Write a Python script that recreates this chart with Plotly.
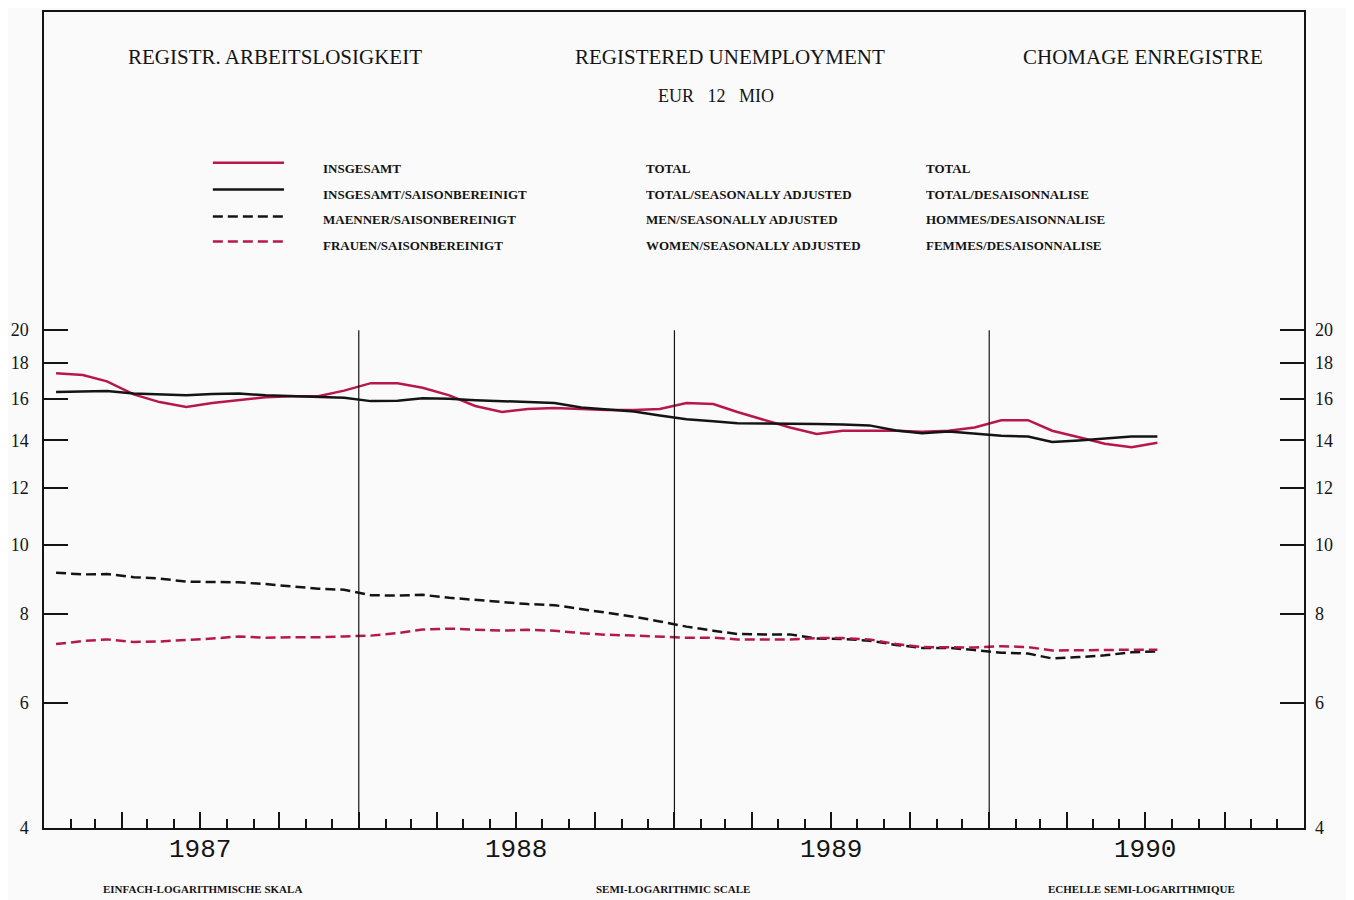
import math
import pandas as pd
import plotly.graph_objects as go

# monthly values, Jan 1987 - Jul 1990 (millions)
months = pd.date_range("1987-01-01", periods=43, freq="MS") + pd.Timedelta(days=14)

total = [17.4, 17.3, 16.95, 16.25, 15.85, 15.6, 15.8, 15.95, 16.1, 16.15,
         16.15, 16.45, 16.85, 16.85, 16.6, 16.2, 15.65, 15.35, 15.5, 15.55,
         15.5, 15.45, 15.45, 15.5, 15.8, 15.75, 15.35, 14.95, 14.6, 14.3,
         14.45, 14.45, 14.45, 14.4, 14.45, 14.6, 14.95, 14.95, 14.45, 14.15,
         13.85, 13.7, 13.9]
total_sa = [16.37, 16.4, 16.43, 16.3, 16.25, 16.2, 16.27, 16.3, 16.2, 16.15,
            16.1, 16.07, 15.9, 15.92, 16.05, 16.02, 15.95, 15.9, 15.85, 15.8,
            15.58, 15.48, 15.38, 15.18, 15.0, 14.9, 14.8, 14.79, 14.79, 14.77,
            14.74, 14.7, 14.46, 14.33, 14.41, 14.31, 14.22, 14.18, 13.93, 14.0,
            14.1, 14.18, 14.18]
men_sa = [9.13, 9.08, 9.09, 9.0, 8.96, 8.87, 8.86, 8.85, 8.8, 8.73,
          8.67, 8.64, 8.49, 8.48, 8.5, 8.42, 8.36, 8.29, 8.25, 8.22,
          8.12, 8.01, 7.92, 7.8, 7.67, 7.57, 7.49, 7.48, 7.48, 7.38,
          7.37, 7.33, 7.23, 7.16, 7.16, 7.11, 7.05, 7.03, 6.92, 6.95,
          6.99, 7.06, 7.08]
women_sa = [7.25, 7.32, 7.36, 7.3, 7.31, 7.34, 7.38, 7.43, 7.4, 7.41,
            7.41, 7.43, 7.45, 7.51, 7.6, 7.62, 7.59, 7.57, 7.59, 7.57,
            7.51, 7.47, 7.45, 7.43, 7.4, 7.4, 7.36, 7.36, 7.36, 7.39,
            7.39, 7.36, 7.25, 7.18, 7.18, 7.17, 7.2, 7.18, 7.1, 7.1,
            7.11, 7.12, 7.12]

y_ticks = [4, 6, 8, 10, 12, 14, 16, 18, 20]
years = [1987, 1988, 1989, 1990]

titles = ["REGISTR. ARBEITSLOSIGKEIT", "REGISTERED UNEMPLOYMENT", "CHOMAGE ENREGISTRE"]
subtitle = "EUR&nbsp;&nbsp; 12&nbsp;&nbsp; MIO"
legend_de = ["INSGESAMT", "INSGESAMT/SAISONBEREINIGT", "MAENNER/SAISONBEREINIGT", "FRAUEN/SAISONBEREINIGT"]
legend_en = ["TOTAL", "TOTAL/SEASONALLY ADJUSTED", "MEN/SEASONALLY ADJUSTED", "WOMEN/SEASONALLY ADJUSTED"]
legend_fr = ["TOTAL", "TOTAL/DESAISONNALISE", "HOMMES/DESAISONNALISE", "FEMMES/DESAISONNALISE"]
scale_notes = ["EINFACH-LOGARITHMISCHE SKALA", "SEMI-LOGARITHMIC SCALE", "ECHELLE SEMI-LOGARITHMIQUE"]

RED = "#b8174e"
BLACK = "#141414"
SERIF = "Liberation Serif"

series = [
  (total, RED, "solid"),
  (total_sa, BLACK, "solid"),
  (men_sa, BLACK, "10px,5px"),
  (women_sa, RED, "10px,5px"),
]

fig = go.Figure()
for values, color, dash in series:
  fig.add_trace(go.Scatter(x=months, y=values, mode="lines",
                           line=dict(color=color, width=2.5, dash=dash),
                           showlegend=False))

# year separators
for yr in years[1:]:
  fig.add_trace(go.Scatter(x=[f"{yr}-01-01", f"{yr}-01-01"], y=[min(y_ticks), max(y_ticks)],
                           mode="lines", line=dict(color=BLACK, width=1.2),
                           yaxis="y2", showlegend=False, hoverinfo="skip"))

y_range = [math.log10(4), math.log10(4) + 818 / 714]

# page body has an 8px margin, so the figure is 8px smaller than the window
fig.update_layout(
  width=1346, height=892,
  margin=dict(l=36, r=50, t=2, b=72),
  paper_bgcolor="#fafafa", plot_bgcolor="#fafafa",
  font=dict(family=SERIF, color=BLACK),
  xaxis=dict(
    type="date", range=["1987-01-01", "1991-01-01"],
    showgrid=False, zeroline=False, showline=True, linecolor=BLACK, linewidth=1.5, mirror=True,
    tickmode="linear", tick0="1987-01-01", dtick="M3",
    ticks="inside", ticklen=16, tickwidth=1.5, tickcolor=BLACK, showticklabels=False,
    minor=dict(dtick="M1", tick0="1987-01-01", ticks="inside", ticklen=9, tickwidth=1.5, tickcolor=BLACK),
  ),
  yaxis=dict(
    type="log", range=y_range,
    showgrid=False, zeroline=False, showline=True, linecolor=BLACK, linewidth=1.5, mirror=True,
    tickmode="array", tickvals=y_ticks, ticktext=[str(v) for v in y_ticks],
    ticks="inside", ticklen=24, tickwidth=1.5, tickcolor=BLACK,
    ticklabelstandoff=10, tickfont=dict(size=18, family=SERIF),
  ),
  yaxis2=dict(
    type="log", range=y_range, overlaying="y", side="right",
    showgrid=False, zeroline=False, showline=False,
    tickmode="array", tickvals=y_ticks, ticktext=[str(v) for v in y_ticks],
    ticks="inside", ticklen=24, tickwidth=1.5, tickcolor=BLACK,
    ticklabelstandoff=10, tickfont=dict(size=18, family=SERIF),
  ),
)

# titles
for text, x in zip(titles, [0.1833, 0.5444, 0.8722]):
  fig.add_annotation(x=x, y=0.945, xref="paper", yref="paper", text=text, showarrow=False,
                     font=dict(size=21, family=SERIF), xanchor="center", yanchor="middle")
fig.add_annotation(x=0.5333, y=0.8973, xref="paper", yref="paper", text=subtitle, showarrow=False,
                   font=dict(size=18, family=SERIF), xanchor="center", yanchor="middle")

# legend block
line_y = [0.8154, 0.7824, 0.7494, 0.7188]
text_y = [0.8081, 0.7763, 0.7457, 0.714]
for i, (_, color, dash) in enumerate(series):
  fig.add_shape(type="line", xref="paper", yref="paper", x0=0.134, x1=0.1905,
                y0=line_y[i], y1=line_y[i], line=dict(color=color, width=2.5, dash=dash))
  for labels, x in ((legend_de, 0.2198), (legend_en, 0.4762), (legend_fr, 0.6984)):
    fig.add_annotation(x=x, y=text_y[i], xref="paper", yref="paper", text=f"<b>{labels[i]}</b>",
                       showarrow=False, xanchor="left", yanchor="middle",
                       font=dict(size=13, family=SERIF))

# year labels
for yr in years:
  fig.add_annotation(x=f"{yr}-07-01", y=-0.027, xref="x", yref="paper", text=str(yr), showarrow=False,
                     font=dict(size=26, family="Liberation Mono"), xanchor="center", yanchor="middle")

# scale notes
for text, x in zip(scale_notes, [0.126, 0.499, 0.871]):
  fig.add_annotation(x=x, y=-0.0745, xref="paper", yref="paper", text=f"<b>{text}</b>", showarrow=False,
                     font=dict(size=11, family=SERIF), xanchor="center", yanchor="middle")

fig.write_html("out.html")
